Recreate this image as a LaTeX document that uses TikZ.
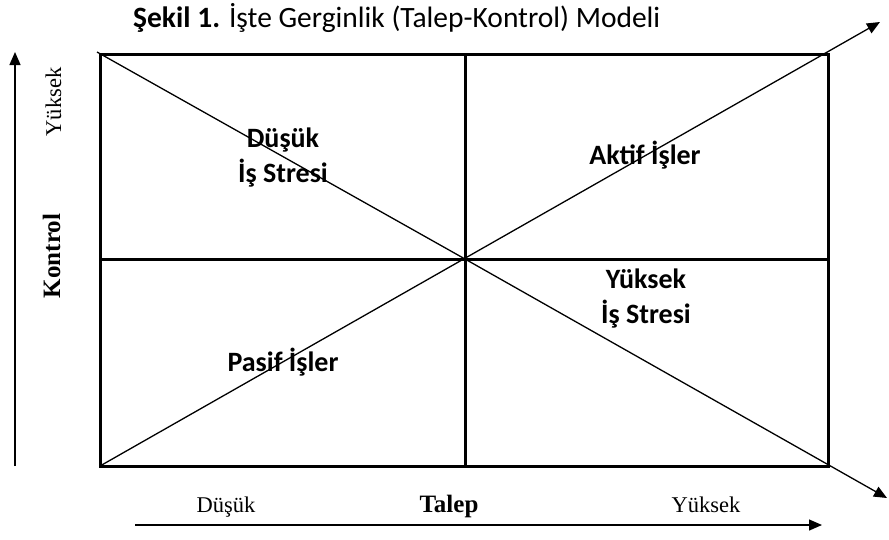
\documentclass[tikz,border=0pt]{standalone}
\usepackage{fontspec}
\setmainfont{Liberation Serif}
\newfontfamily\calibri{Carlito}
\usetikzlibrary{arrows.meta}
\tikzset{
  frame/.style={line width=3pt},
  diag/.style={line width=1.3pt},
  axis/.style={line width=1.3pt},
  tip/.style={-{Triangle[length=13pt,width=11pt]}},
  quad/.style={font=\calibri\fontsize{28}{35}\selectfont\bfseries, align=center, inner sep=0pt, anchor=base},
  axlabel/.style={font=\fontsize{22.5}{26}\selectfont, inner sep=0pt, anchor=base},
  axtitle/.style={font=\fontsize{25}{30}\selectfont\bfseries, inner sep=0pt, anchor=base},
}
\begin{document}
\begin{tikzpicture}[x=1pt,y=-1pt]
\useasboundingbox (0,0) rectangle (889,539);
% corners and centre of the grid
\coordinate (tl) at (100,54);
\coordinate (tr) at (828,54);
\coordinate (bl) at (100,466);
\coordinate (br) at (828,466);
\coordinate (tm) at (465,54);
\coordinate (bm) at (465,466);
\coordinate (ml) at (100,259);
\coordinate (mr) at (828,259);
\coordinate (cc) at (465,259);
\coordinate (dstart) at (97,52);
\coordinate (uptip) at (880,22);
\coordinate (downtip) at (887,498);
% diagonals
\draw[diag] (dstart) -- (cc);
\draw[diag,tip] (cc) -- (downtip);
\draw[diag,tip] (bl) -- (uptip);
% grid
\draw[frame] (tl) rectangle (br);
\draw[frame] (tm) -- (bm);
\draw[frame] (ml) -- (mr);
% axes
\coordinate (ya) at (15,466);
\coordinate (yb) at (15,52);
\coordinate (xa) at (135,525);
\coordinate (xb) at (822,525);
\draw[axis,tip] (ya) -- (yb);
\draw[axis,tip] (xa) -- (xb);
% title
\node[font=\calibri\fontsize{29.5}{35}\selectfont, anchor=base west, inner sep=0pt] (title) at (133,27)
  {\textbf{Şekil 1.} İşte Gerginlik (Talep-Kontrol) Modeli};
% quadrant labels (base anchor sits on the last line)
\node[quad] (q1) at (283,182) {Düşük\\İş Stresi};
\node[quad] (q2) at (645,164) {Aktif İşler};
\node[quad] (q3) at (646,323) {Yüksek\\İş Stresi};
\node[quad] (q4) at (283,371) {Pasif İşler};
% axis labels
\node[axlabel, rotate=90] (yhi) at (61,102) {Yüksek};
\node[axtitle, rotate=90] (ylab) at (60,256) {Kontrol};
\node[axlabel] (xlo) at (226,512) {Düşük};
\node[axtitle] (xlab) at (449,512) {Talep};
\node[axlabel] (xhi) at (706,512) {Yüksek};
\end{tikzpicture}
\end{document}
